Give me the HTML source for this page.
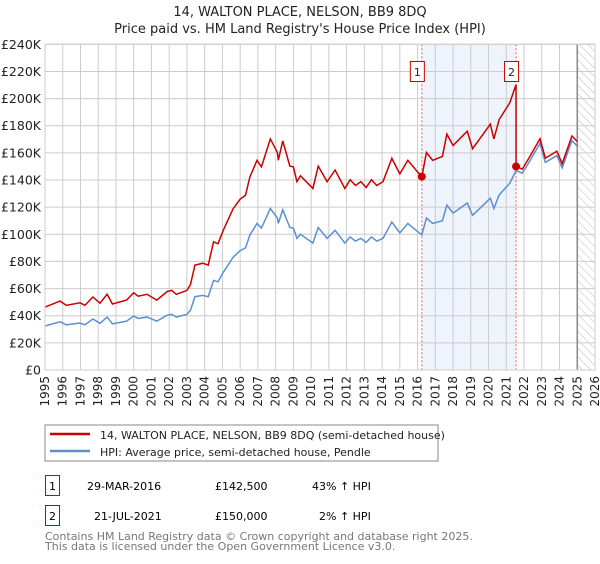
<!DOCTYPE html>
<html><head><meta charset="utf-8"><style>
body{margin:0;background:#fff;width:600px;height:560px;overflow:hidden;font-family:"DejaVu Sans","Liberation Sans",sans-serif}
svg text{font-family:"DejaVu Sans","Liberation Sans",sans-serif}
</style></head><body>
<svg id="c" width="600" height="560" xmlns="http://www.w3.org/2000/svg">
<defs><pattern id="hatch" width="6" height="6" patternUnits="userSpaceOnUse" patternTransform="rotate(-45)"><line x1="0" y1="0" x2="0" y2="6" stroke="#bbb" stroke-width="1"/></pattern></defs>
<text x="300" y="16" text-anchor="middle" font-size="13" fill="#222">14, WALTON PLACE, NELSON, BB9 8DQ</text>
<text x="300" y="33" text-anchor="middle" font-size="13" fill="#222">Price paid vs. HM Land Registry's House Price Index (HPI)</text>
<g id="plot"></g>
<rect x="45" y="425" width="393" height="36" fill="#fff" stroke="#888"/>
<line x1="50" y1="434" x2="90" y2="434" stroke="#cc0000" stroke-width="2.5"/>
<text x="100" y="439" font-size="11" fill="#222">14, WALTON PLACE, NELSON, BB9 8DQ (semi-detached house)</text>
<line x1="50" y1="451" x2="90" y2="451" stroke="#5b8fd0" stroke-width="2.5"/>
<text x="100" y="456" font-size="11" fill="#222">HPI: Average price, semi-detached house, Pendle</text>
<g>
<rect x="45.5" y="475.5" width="14" height="20" fill="#fff" stroke="#cc0000"/>
<text x="52.5" y="490" text-anchor="middle" font-size="11">1</text>
<text x="87" y="490" font-size="11">29-MAR-2016</text>
<text x="215" y="490" font-size="11">£142,500</text>
<text x="312" y="490" font-size="11">43% ↑ HPI</text></g>
<g>
<rect x="45.5" y="505.5" width="14" height="20" fill="#fff" stroke="#cc0000"/>
<text x="52.5" y="520" text-anchor="middle" font-size="11">2</text>
<text x="94" y="520" font-size="11">21-JUL-2021</text>
<text x="215" y="520" font-size="11">£150,000</text>
<text x="319" y="520" font-size="11">2% ↑ HPI</text></g>
<text x="45" y="540" font-size="11" fill="#777">Contains HM Land Registry data © Crown copyright and database right 2025.</text>
<text x="45" y="550" font-size="11" fill="#777">This data is licensed under the Open Government Licence v3.0.</text>
</svg>
<script>
const hpiYears=[1995,1995.85,1996.2,1996.97,1997.25,1997.7,1998.1,1998.5,1998.8,1999.6,2000,2000.25,2000.75,2001.3,2001.9,2002.15,2002.4,2003,2003.2,2003.45,2003.9,2004.2,2004.5,2004.75,2005.05,2005.6,2006,2006.3,2006.55,2006.95,2007.2,2007.7,2008.1,2008.15,2008.4,2008.8,2009,2009.2,2009.4,2010.1,2010.4,2010.9,2011.35,2011.9,2012.2,2012.5,2012.8,2013.1,2013.4,2013.7,2014.05,2014.55,2015,2015.45,2016,2016.24,2016.5,2016.85,2017.4,2017.65,2018,2018.8,2019.1,2020.1,2020.3,2020.6,2021.2,2021.55,2021.9,2022.35,2022.9,2023.2,2023.85,2024.15,2024.7,2025];
const hpiValues=[32.4,35.5,33.3,34.6,33.3,37.6,34.4,39,34,36,39.8,38,39,36,40.5,41,39,41,44,54,55,54,66,65,72,83,88,90,99.5,108,104.6,119,112,108,118,105,104.6,97,100,93.5,105,97,103,93.5,98,95,97,94,98,95,97,109,101,108,102,99.6,112,108,110,121.5,115.6,123,114,126.6,119,129,137.7,147,145,154.6,167,153,158,149,169,165];
const saleYears=[2016.24,2021.55];
const salePrices=[142.5,150];
const yTicks=[0,20,40,60,80,100,120,140,160,180,200,220,240];
const yTickLabels=["£0","£20K","£40K","£60K","£80K","£100K","£120K","£140K","£160K","£180K","£200K","£220K","£240K"];
const xTicks=[1995,1996,1997,1998,1999,2000,2001,2002,2003,2004,2005,2006,2007,2008,2009,2010,2011,2012,2013,2014,2015,2016,2017,2018,2019,2020,2021,2022,2023,2024,2025,2026];
const dataEnd=2025;
const NS="http://www.w3.org/2000/svg";
const X0=45,X1=595,Y0=370,Y1=44.3;
const xs=y=>X0+(y-1995)/(2026-1995)*(X1-X0);
const ys=v=>Y0-v/240*(Y0-Y1);
const g=document.getElementById('plot');
function mk(t,a,p){const e=document.createElementNS(NS,t);for(const k in a)e.setAttribute(k,a[k]);(p||g).appendChild(e);return e;}
function hpiAt(t){for(let i=0;i<hpiYears.length-1;i++){if(t>=hpiYears[i]&&t<=hpiYears[i+1]){const f=(t-hpiYears[i])/(hpiYears[i+1]-hpiYears[i]);return hpiValues[i]+f*(hpiValues[i+1]-hpiValues[i]);}}return hpiValues[hpiValues.length-1];}
const sh=mk('rect',{x:xs(saleYears[0]),y:Y1,width:xs(saleYears[1])-xs(saleYears[0]),height:Y0-Y1,fill:'#eef3fc'});


const hz=mk('rect',{x:xs(dataEnd),y:Y1,width:X1-xs(dataEnd),height:Y0-Y1,fill:'url(#hatch)'});


xTicks.forEach(t=>{const l=mk('line',{x1:xs(t),x2:xs(t),y1:Y1,y2:Y0,stroke:'#ccc'});


const tx=mk('text',{x:0,y:0,'font-size':12,fill:'#222','text-anchor':'end',transform:`translate(${xs(t)+4},${Y0+6}) rotate(-90)`});tx.textContent=t;

});
yTicks.forEach((t,i)=>{const l=mk('line',{x1:X0,x2:X1,y1:ys(t),y2:ys(t),stroke:'#ccc'});


const tx=mk('text',{x:41,y:ys(t)+4.5,'font-size':12.5,fill:'#222','text-anchor':'end'});tx.textContent=yTickLabels[i];

});
const ve=mk('line',{x1:xs(dataEnd),x2:xs(dataEnd),y1:Y1,y2:Y0,stroke:'#888','stroke-width':1.5});


saleYears.forEach((s,i)=>{const l=mk('line',{x1:xs(s),x2:xs(s),y1:Y1,y2:Y0,stroke:'#f06060','stroke-dasharray':'2,2'});

});
const hp=mk('polyline',{points:hpiYears.map((y,i)=>xs(y)+','+ys(hpiValues[i])).join(' '),fill:'none',stroke:'#5b8fd0','stroke-width':1.5});


const h0=hpiAt(saleYears[0]),h1=hpiAt(saleYears[1]);
const pts=[];
hpiYears.forEach((y,i)=>{if(y<saleYears[1]){pts.push([y,hpiValues[i]*salePrices[0]/h0]);}});
pts.push([saleYears[1],h1*salePrices[0]/h0]);
pts.push([saleYears[1],salePrices[1]]);
hpiYears.forEach((y,i)=>{if(y>saleYears[1])pts.push([y,hpiValues[i]*salePrices[1]/h1]);});
const pl=mk('polyline',{points:pts.map(p=>xs(p[0])+','+ys(p[1])).join(' '),fill:'none',stroke:'#cc0000','stroke-width':1.5});


saleYears.forEach((s,i)=>{const c=mk('circle',{cx:xs(s),cy:ys(salePrices[i]),r:4,fill:'#cc0000'});


const r=mk('rect',{x:xs(s)-11.5,y:61.5,width:14,height:20,fill:'#fff',stroke:'#cc0000'});


const t=mk('text',{x:xs(s)-4.5,y:76,'text-anchor':'middle','font-size':11,fill:'#222'});t.textContent=String(i+1);

});
const bd=mk('rect',{x:X0,y:Y1,width:X1-X0,height:Y0-Y1,fill:'none',stroke:'#ccc'});


</script>
</body></html>
